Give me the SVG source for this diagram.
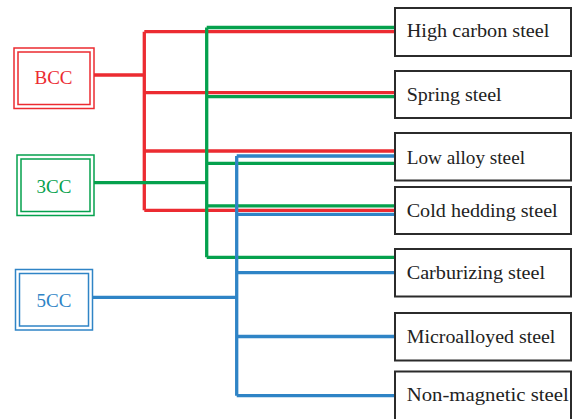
<svg xmlns="http://www.w3.org/2000/svg" width="573" height="419" viewBox="0 0 573 419">
<style>
.src{fill:#fff;stroke-width:1.5}
.box{fill:#fff;stroke:#2b2b2b;stroke-width:2}
.c{fill:none;stroke-width:3.3;stroke-linejoin:miter;stroke-linecap:butt}
.red{stroke:#ec2b31}.green{stroke:#05a14d}.blue{stroke:#2f84c6}
</style>
<rect width="573" height="419" fill="#fff"/>
<g id="connectors">
<path class="c red" d="M94 75H144.3M144.3 31.7V210.3M144.3 31.7H395M144.3 92.7H395M144.3 151H395M144.3 210.3H395"/>
<path class="c green" d="M94 182.7H206.7M206.7 27.5V257.3M206.7 27.5H395M206.7 96.7H395M206.7 163.3H395M206.7 205.8H395M206.7 257.3H395"/>
<path class="c blue" d="M93 297.3H236.7M236.7 156V395.7M236.7 156H395M236.7 214.3H395M236.7 272.7H395M236.7 336.5H395M236.7 395.7H395"/>
</g>
<g font-family="Liberation Serif, Times New Roman, serif" font-size="19" text-anchor="middle">
<g id="bcc">
<rect class="src" x="14" y="48" width="80" height="60.5" stroke="#ec2b31"/>
<rect class="src" x="18" y="52" width="72" height="52.5" stroke="#ec2b31"/>
<text x="53.5" y="83.5" fill="#ec2b31">BCC</text>
</g>
<g id="c3cc">
<rect class="src" x="17" y="155" width="77" height="60.5" stroke="#05a14d"/>
<rect class="src" x="21" y="159" width="69" height="52.5" stroke="#05a14d"/>
<text x="54" y="193.3" fill="#05a14d">3CC</text>
</g>
<g id="c5cc">
<rect class="src" x="15.5" y="269.5" width="77" height="60.5" stroke="#2f84c6"/>
<rect class="src" x="19.5" y="273.5" width="69" height="52.5" stroke="#2f84c6"/>
<text x="54" y="307.3" fill="#2f84c6">5CC</text>
</g>
</g>
<g font-family="Liberation Serif, Times New Roman, serif" font-size="19.5" fill="#222">
<g id="high-carbon">
<rect class="box" x="395" y="8" width="176" height="48"/>
<text x="406.7" y="36.7" textLength="142.7" lengthAdjust="spacingAndGlyphs">High carbon steel</text>
</g>
<g id="spring">
<rect class="box" x="395" y="71" width="176" height="47"/>
<text x="406.7" y="100.7" textLength="95" lengthAdjust="spacingAndGlyphs">Spring steel</text>
</g>
<g id="low-alloy">
<rect class="box" x="395" y="133" width="176" height="47.5"/>
<text x="406.7" y="164" textLength="118.3" lengthAdjust="spacingAndGlyphs">Low alloy steel</text>
</g>
<g id="cold-hedding">
<rect class="box" x="395" y="187" width="176" height="47"/>
<text x="406.7" y="216.7" textLength="151" lengthAdjust="spacingAndGlyphs">Cold hedding steel</text>
</g>
<g id="carburizing">
<rect class="box" x="395" y="249" width="176" height="47.5"/>
<text x="406.7" y="278.7" textLength="138.3" lengthAdjust="spacingAndGlyphs">Carburizing steel</text>
</g>
<g id="microalloyed">
<rect class="box" x="395" y="313" width="176" height="47.5"/>
<text x="406.7" y="342.7" textLength="148.7" lengthAdjust="spacingAndGlyphs">Microalloyed steel</text>
</g>
<g id="non-magnetic">
<rect class="box" x="395" y="371.5" width="176" height="50"/>
<text x="406.7" y="400.7" textLength="162" lengthAdjust="spacingAndGlyphs">Non-magnetic steel</text>
</g>
</g>
</svg>
